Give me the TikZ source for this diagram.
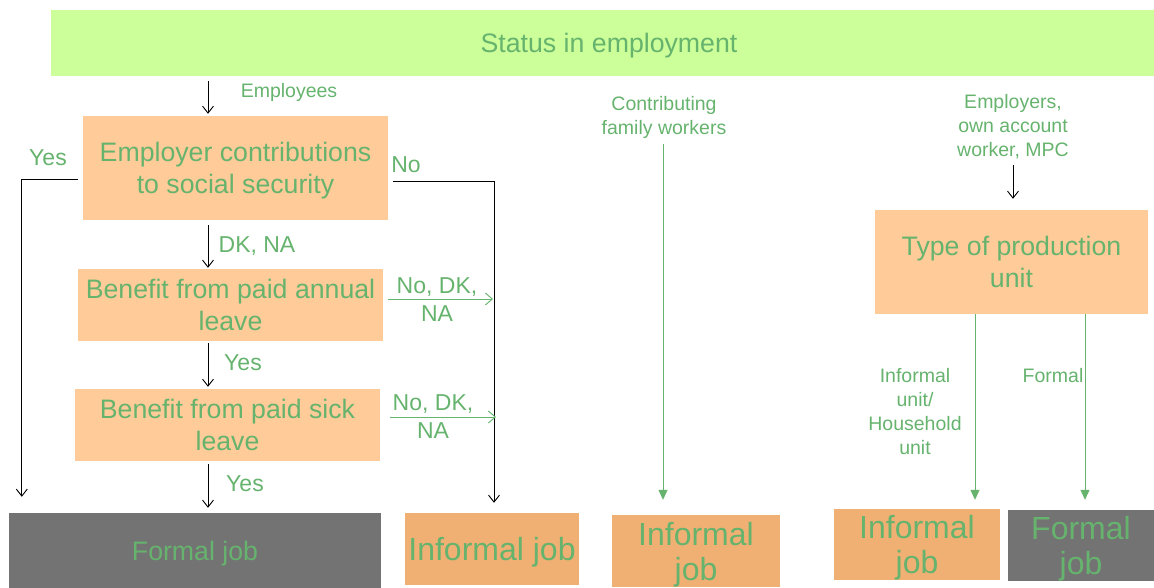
\documentclass[tikz,border=0pt]{standalone}
\usepackage{fontspec}
\setmainfont{Liberation Sans}
\usetikzlibrary{arrows.meta,calc}
\definecolor{tgreen}{HTML}{66B36E}
\definecolor{barbg}{HTML}{CCFF99}
\definecolor{peach}{HTML}{FFCC99}
\definecolor{orng}{HTML}{F0B074}
\definecolor{gry}{HTML}{737373}
\begin{document}
\begin{tikzpicture}[x=1pt,y=-1pt,
  box/.style={inner sep=0pt, text=tgreen, align=center, text depth=0pt, font=\fontsize{26.7}{32}\selectfont},
  jobtxt/.style={inner sep=0pt, text=tgreen, align=center, text depth=0pt, font=\fontsize{32}{35}\selectfont},
  small/.style={inner sep=0pt, text=tgreen, align=center, font=\fontsize{19.5}{24}\selectfont},
  mid/.style={inner sep=0pt, text=tgreen, align=center, font=\fontsize{23}{28}\selectfont},
  blk/.style={draw=black, line width=0.9pt, -{Straight Barb[length=7pt,width=11pt]}},
  gopen/.style={draw=tgreen, line width=0.9pt, -{Straight Barb[length=7pt,width=12pt]}},
  grn/.style={draw=tgreen, line width=1pt, -{Triangle[length=10pt,width=9pt]}}]
\useasboundingbox (0,0) rectangle (1154,588);
% boxes
\node[box, fill=barbg, minimum width=1103, minimum height=66] (top) at (602.5,43) {\hspace*{13pt}Status in employment};
\node[box, fill=peach, minimum width=305, minimum height=104] (b1) at (235.5,168) {Employer contributions\\to social security};
\node[box, fill=peach, minimum width=305, minimum height=72] (b2) at (230.5,305) {Benefit from paid annual\\leave};
\node[box, fill=peach, minimum width=305, minimum height=72] (b3) at (227.5,425) {Benefit from paid sick\\leave};
\node[box, fill=gry, minimum width=372, minimum height=75] (fj1) at (195,550.5) {Formal job};
\node[jobtxt, fill=orng, minimum width=174, minimum height=72] (ij1) at (492,549) {Informal job};
\node[jobtxt, fill=orng, minimum width=168, minimum height=72] (ij2) at (696,551) {Informal\\job};
\node[box, fill=peach, minimum width=273, minimum height=104] (tpu) at (1011.5,262) {Type of production\\unit};
\node[jobtxt, fill=orng, minimum width=166, minimum height=71] (ij3) at (917,544.5) {Informal\\job};
\node[jobtxt, fill=gry, minimum width=146, minimum height=71] (fj2) at (1081,545.5) {Formal\\job};
% labels
\node[small] (emp) at (289,92.5) {Employees};
\node[small] (cfw) at (664,117) {Contributing\\family workers};
\node[small] (eoa) at (1013,126.5) {Employers,\\own account\\worker, MPC};
\node[small] (iu) at (915,411.5) {Informal\\unit/\\Household\\unit};
\node[small] (fl) at (1053,375.5) {Formal};
\node[mid] (yes1) at (48,158) {Yes};
\node[mid] (no1) at (406,164.5) {No};
\node[mid] (dkna) at (257,246.5) {DK, NA};
\node[mid] (yes2) at (243,363) {Yes};
\node[mid] (yes3) at (245,484) {Yes};
\node[mid] (nd1) at (437,299.5) {No, DK,\\NA};
\node[mid] (nd2) at (433,416.5) {No, DK,\\NA};
% helper coordinates
\coordinate (xa) at (208,0);
\coordinate (xr) at (494,0);
\coordinate (x975) at (975,0);
\coordinate (x1085) at (1085,0);
% black arrows
\draw[blk] ($(top.south -| xa)+(0,5)$) -- ($(b1.north -| xa)+(0,-2)$);
\draw[blk] ($(b1.south -| xa)+(0,5)$) -- ($(b2.north -| xa)+(0,-1)$);
\draw[blk] ($(b2.south -| xa)+(0,2)$) -- ($(b3.north -| xa)+(0,-2)$);
\draw[blk] ($(b3.south -| xa)+(0,3)$) -- ($(fj1.north -| xa)+(0,-5)$);
\draw[blk] ($(b1.west)+(-5,11)$) -| ($(fj1.north west)+(13,-16)$);
\draw[blk] ($(b1.east)+(5,13)$) -| ($(ij1.north -| xr)+(0,-10)$);
\draw[blk] ($(eoa.south)+(0,6)$) -- ($(tpu.north)+(1.5,-11)$);
% green arrows
\draw[gopen] ($(b2.east)+(5,-6)$) -- ($(b2.east -| xr)+(-1,-6)$);
\draw[gopen] ($(b3.east)+(10,-8)$) -- ($(b3.east -| xr)+(2,-8)$);
\draw[grn] ($(cfw.south)+(-1,6)$) -- ($(ij2.north)+(-33,-15)$);
\draw[grn] (tpu.south -| x975) -- ($(ij3.north -| x975)+(0,-9)$);
\draw[grn] (tpu.south -| x1085) -- ($(fj2.north -| x1085)+(0,-10)$);
\end{tikzpicture}
\end{document}
